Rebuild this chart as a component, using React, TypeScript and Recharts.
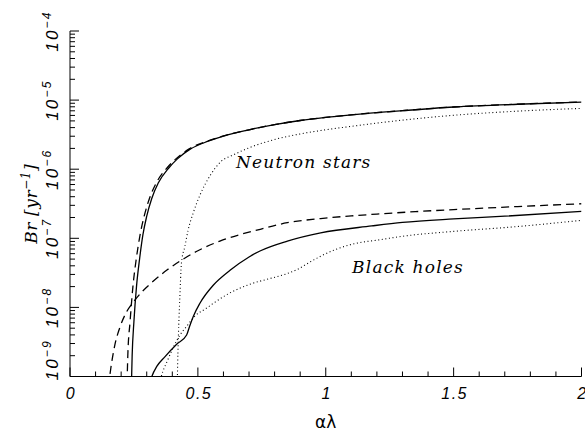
import React from 'react';
import { LineChart, Line, XAxis, YAxis, ReferenceDot } from 'recharts';

// ---- data (x = αλ, y = Br in yr^-1) ----
const nsSolidX = [0.239, 0.243, 0.25, 0.26, 0.272, 0.285, 0.3, 0.32, 0.345, 0.387, 0.42, 0.47, 0.54, 0.6, 0.7, 0.8, 0.9, 1.0, 1.1, 1.3, 1.5, 1.75, 2.0];
const nsSolidY = [5.0e-10, 2.0e-9, 6.3e-9, 2.0e-8, 5.0e-8, 1.12e-7, 2.09e-7, 3.8e-7, 6.3e-7, 1.05e-6, 1.41e-6, 1.95e-6, 2.54e-6, 3.02e-6, 3.72e-6, 4.42e-6, 5.07e-6, 5.62e-6, 6.12e-6, 7.03e-6, 7.94e-6, 8.71e-6, 9.33e-6];

const nsDashedX = [0.222, 0.226, 0.235, 0.246, 0.259, 0.274, 0.29, 0.311, 0.337, 0.38, 0.414, 0.466, 0.54, 0.6, 0.7, 0.8, 0.9, 1.0, 1.1, 1.3, 1.5, 1.75, 2.0];
const nsDashedY = [5.0e-10, 2.0e-9, 6.3e-9, 2.0e-8, 5.0e-8, 1.12e-7, 2.09e-7, 3.8e-7, 6.3e-7, 1.05e-6, 1.41e-6, 1.97e-6, 2.57e-6, 3.03e-6, 3.72e-6, 4.42e-6, 5.07e-6, 5.62e-6, 6.12e-6, 7.03e-6, 7.94e-6, 8.71e-6, 9.4e-6];

const nsDottedX = [0.418, 0.42, 0.424, 0.429, 0.436, 0.449, 0.462, 0.482, 0.51, 0.55, 0.59, 0.64, 0.7, 0.8, 0.9, 1.0, 1.1, 1.3, 1.5, 1.75, 2.0];
const nsDottedY = [3.16e-10, 1.0e-9, 3.98e-9, 1.26e-8, 4.47e-8, 7.59e-8, 1.32e-7, 2.34e-7, 4.37e-7, 8.32e-7, 1.29e-6, 1.62e-6, 2.04e-6, 2.69e-6, 3.24e-6, 3.72e-6, 4.17e-6, 5.13e-6, 6.03e-6, 6.92e-6, 7.59e-6];

const bhDashedX = [0.15, 0.16, 0.175, 0.196, 0.222, 0.248, 0.28, 0.314, 0.379, 0.443, 0.5, 0.586, 0.744, 0.85, 0.98, 1.1, 1.2, 1.35, 1.5, 1.75, 2.0];
const bhDashedY = [7.08e-10, 1.35e-9, 2.82e-9, 5.25e-9, 8.71e-9, 1.2e-8, 1.66e-8, 2.19e-8, 3.47e-8, 5.01e-8, 6.61e-8, 9.12e-8, 1.35e-7, 1.68e-7, 1.93e-7, 2.11e-7, 2.24e-7, 2.43e-7, 2.6e-7, 2.88e-7, 3.16e-7];

const bhSolidX = [0.305, 0.32, 0.34, 0.37, 0.418, 0.456, 0.468, 0.482, 0.508, 0.56, 0.627, 0.7, 0.745, 0.85, 0.98, 1.18, 1.3, 1.5, 1.7, 2.0];
const bhSolidY = [6.31e-10, 1.0e-9, 1.41e-9, 1.91e-9, 2.95e-9, 3.98e-9, 5.37e-9, 7.41e-9, 1.15e-8, 2.09e-8, 3.47e-8, 5.37e-8, 6.61e-8, 9.12e-8, 1.2e-7, 1.51e-7, 1.7e-7, 1.91e-7, 2.09e-7, 2.45e-7];

const bhDottedX = [0.345, 0.357, 0.38, 0.405, 0.43, 0.457, 0.49, 0.53, 0.561, 0.62, 0.7, 0.784, 0.85, 0.889, 0.94, 0.98, 1.04, 1.11, 1.213, 1.3, 1.5, 1.75, 2.0];
const bhDottedY = [6.31e-10, 1.0e-9, 1.66e-9, 2.69e-9, 3.98e-9, 5.37e-9, 7.59e-9, 9.55e-9, 1.15e-8, 1.58e-8, 2.14e-8, 2.63e-8, 3.09e-8, 3.55e-8, 4.57e-8, 5.5e-8, 6.92e-8, 8.32e-8, 9.55e-8, 1.07e-7, 1.26e-7, 1.48e-7, 1.82e-7];

// ---- ticks ----
const xMajorTicks = [0, 0.5, 1, 1.5, 2];
const xTickLabels = ['0', '0.5', '1', '1.5', '2'];
const xMinorTicks = [0.1, 0.2, 0.3, 0.4, 0.6, 0.7, 0.8, 0.9, 1.1, 1.2, 1.3, 1.4, 1.6, 1.7, 1.8, 1.9];
const yMajorTicks = [1e-9, 1e-8, 1e-7, 1e-6, 1e-5, 1e-4];
const yTickExponents = ['−9', '−8', '−7', '−6', '−5', '−4'];
const yMinorMultipliers = [2, 3, 4, 5, 6, 7, 8, 9];
const yMinorTicks = yMajorTicks.slice(0, 5).flatMap((d) => yMinorMultipliers.map((m) => m * d));

const xAllTicks = [...xMajorTicks, ...xMinorTicks].sort((a, b) => a - b);
const yAllTicks = [...yMajorTicks, ...yMinorTicks].sort((a, b) => a - b);

const toPoints = (xs: number[], ys: number[]) => xs.map((x, i) => ({ x, y: ys[i] }));

const MAJOR = 9;
const MINOR = 5;
const labelFont = { fontFamily: 'Liberation Sans, Arial, sans-serif', fontStyle: 'italic' as const };

const isMajorX = (v: number) => xMajorTicks.some((t) => Math.abs(t - v) < 1e-9);
const majorYIndex = (v: number) => yMajorTicks.findIndex((t) => Math.abs(t - v) / t < 1e-6);

const BottomTick = (props: any) => {
  const { x, y, payload } = props;
  const v = payload.value;
  const major = isMajorX(v);
  const idx = xMajorTicks.findIndex((t) => Math.abs(t - v) < 1e-9);
  return (
    <g>
      <line x1={x} y1={y} x2={x} y2={y - (major ? MAJOR : MINOR)} stroke="#000" strokeWidth={1} />
      {major && (
        <text x={x + 1} y={y + 22} textAnchor="middle" fontSize={16} letterSpacing={1.5} fill="#000" {...labelFont}>
          {xTickLabels[idx]}
        </text>
      )}
    </g>
  );
};

const TopTick = (props: any) => {
  const { x, y, payload } = props;
  const major = isMajorX(payload.value);
  return <line x1={x} y1={y} x2={x} y2={y + (major ? MAJOR : MINOR)} stroke="#000" strokeWidth={1} />;
};

const LeftTick = (props: any) => {
  const { x, y, payload } = props;
  const idx = majorYIndex(payload.value);
  const major = idx >= 0;
  const bottom = idx === 0;
  return (
    <g>
      <line x1={x} y1={y} x2={x + (major ? MAJOR : MINOR)} y2={y} stroke="#000" strokeWidth={1} />
      {major && (
        <text
          transform={`translate(${x - 12},${bottom ? y + 4 : y}) rotate(-90)`}
          textAnchor={bottom ? 'start' : 'middle'}
          fontSize={17}
          letterSpacing={2.2}
          fill="#000"
          {...labelFont}
        >
          10
          <tspan dy={-7} fontSize={12}>
            {yTickExponents[idx]}
          </tspan>
        </text>
      )}
    </g>
  );
};

const RightTick = (props: any) => {
  const { x, y, payload } = props;
  const major = majorYIndex(payload.value) >= 0;
  return <line x1={x} y1={y} x2={x - (major ? MAJOR : MINOR)} y2={y} stroke="#000" strokeWidth={1} />;
};

const serifItalic = { fontFamily: 'DejaVu Serif, serif', fontStyle: 'italic' as const };

const NsLabel = (props: any) => {
  const vb = props.viewBox || {};
  return (
    <text x={vb.x} y={vb.y} fontSize={17} letterSpacing={1.2} fill="#000" {...serifItalic}>
      Neutron stars
    </text>
  );
};

const BhLabel = (props: any) => {
  const vb = props.viewBox || {};
  return (
    <text x={vb.x} y={vb.y} fontSize={17} letterSpacing={1.2} fill="#000" {...serifItalic}>
      Black holes
    </text>
  );
};

const XTitle = (props: any) => {
  const vb = props.viewBox || {};
  return (
    <text x={vb.x + vb.width / 2} y={vb.y + 51} textAnchor="middle" fontSize={17} fill="#000" fontFamily="DejaVu Sans, sans-serif">
      αλ
    </text>
  );
};

const YTitle = (props: any) => {
  const vb = props.viewBox || {};
  const cy = vb.y + vb.height / 2;
  return (
    <text transform={`translate(37,${cy}) rotate(-90)`} textAnchor="middle" fontSize={17} letterSpacing={0.6} fill="#000" {...serifItalic}>
      Br [yr
      <tspan dy={-7} fontSize={12}>
        −1
      </tspan>
      <tspan dy={7}>]</tspan>
    </text>
  );
};

const series = [
  { key: 'nsSolid', data: toPoints(nsSolidX, nsSolidY), dash: undefined as string | undefined, width: 1.3 },
  { key: 'nsDashed', data: toPoints(nsDashedX, nsDashedY), dash: '8 5', width: 1.3 },
  { key: 'nsDotted', data: toPoints(nsDottedX, nsDottedY), dash: '1 2.6', width: 1.1 },
  { key: 'bhSolid', data: toPoints(bhSolidX, bhSolidY), dash: undefined, width: 1.3 },
  { key: 'bhDashed', data: toPoints(bhDashedX, bhDashedY), dash: '8 5', width: 1.3 },
  { key: 'bhDotted', data: toPoints(bhDottedX, bhDottedY), dash: '1 2.6', width: 1.1 },
];

export default function App() {
  return (
    <div style={{ position: 'absolute', left: 0, top: 0, width: 585, height: 439, background: '#fff' }}>
      <LineChart width={585} height={439} margin={{ top: 31, right: 3.5, bottom: 0, left: 0 }}>
        <XAxis
          xAxisId={0}
          dataKey="x"
          type="number"
          domain={[0, 2]}
          ticks={xAllTicks}
          interval={0}
          tickSize={0}
          tickMargin={0}
          tickLine={false}
          tick={<BottomTick />}
          height={62.5}
          axisLine={{ stroke: '#000', strokeWidth: 1 }}
          allowDataOverflow
          label={<XTitle />}
        />
        <XAxis
          xAxisId="top"
          orientation="top"
          type="number"
          domain={[0, 2]}
          ticks={xAllTicks}
          interval={0}
          tickSize={0}
          tickMargin={0}
          tickLine={false}
          tick={<TopTick />}
          height={0}
          axisLine={{ stroke: '#000', strokeWidth: 1 }}
          allowDataOverflow
        />
        <YAxis
          yAxisId={0}
          dataKey="y"
          type="number"
          scale="log"
          domain={[1e-9, 1e-4]}
          ticks={yAllTicks}
          interval={0}
          tickSize={0}
          tickMargin={0}
          tickLine={false}
          tick={<LeftTick />}
          width={70}
          axisLine={{ stroke: '#000', strokeWidth: 1 }}
          allowDataOverflow
          label={<YTitle />}
        />
        <YAxis
          yAxisId="right"
          orientation="right"
          type="number"
          scale="log"
          domain={[1e-9, 1e-4]}
          ticks={yAllTicks}
          interval={0}
          tickSize={0}
          tickMargin={0}
          tickLine={false}
          tick={<RightTick />}
          width={0}
          axisLine={{ stroke: '#000', strokeWidth: 1 }}
          allowDataOverflow
        />
        {series.map((s) => (
          <Line
            key={s.key}
            data={s.data}
            dataKey="y"
            xAxisId={0}
            yAxisId={0}
            type="monotone"
            stroke="#000"
            strokeWidth={s.width}
            strokeDasharray={s.dash}
            dot={false}
            activeDot={false}
            isAnimationActive={false}
          />
        ))}
        <ReferenceDot x={0.649} y={1.03e-6} r={0} fill="none" stroke="none" ifOverflow="visible" label={<NsLabel />} />
        <ReferenceDot x={1.103} y={3.1e-8} r={0} fill="none" stroke="none" ifOverflow="visible" label={<BhLabel />} />
      </LineChart>
    </div>
  );
}
